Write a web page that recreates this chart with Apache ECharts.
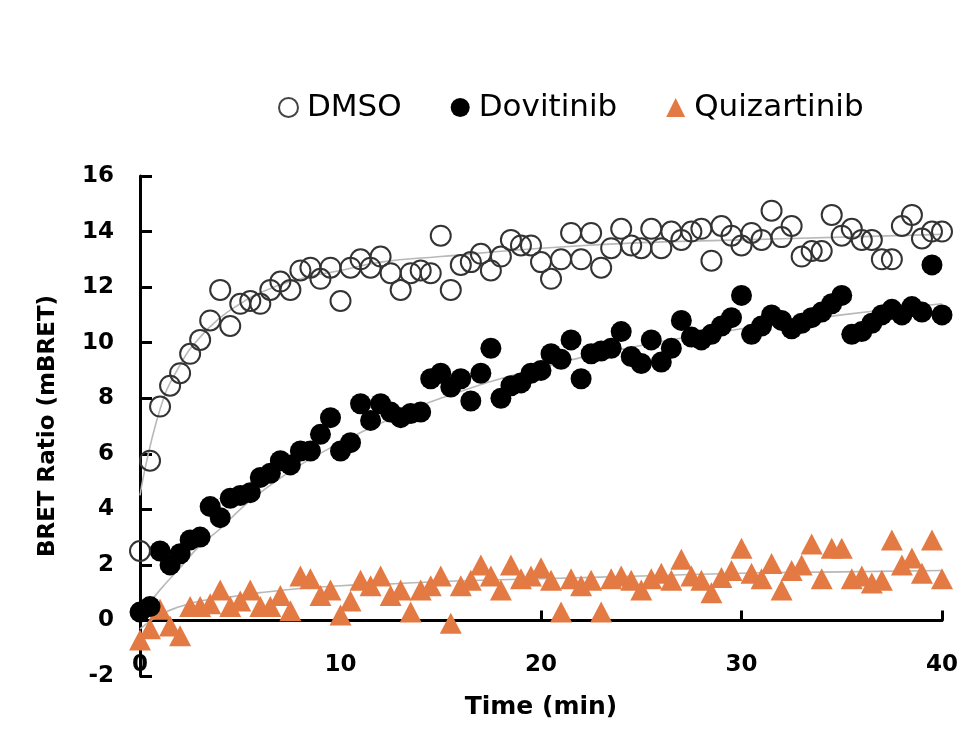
<!DOCTYPE html>
<html>
<head>
<meta charset="utf-8">
<script src="https://cdn.jsdelivr.net/npm/echarts@6/dist/echarts.min.js"></script>
<style>html,body{margin:0;padding:0;background:#fff;}#c{width:963px;height:729px;}</style>
</head>
<body>
<div id="c"></div>
<script>
// Sampling times (min)
const times = [0,0.5,1,1.5,2,2.5,3,3.5,4,4.5,5,5.5,6,6.5,7,7.5,8,8.5,9,9.5,10,10.5,11,11.5,12,12.5,13,13.5,14,14.5,15,15.5,16,16.5,17,17.5,18,18.5,19,19.5,20,20.5,21,21.5,22,22.5,23,23.5,24,24.5,25,25.5,26,26.5,27,27.5,28,28.5,29,29.5,30,30.5,31,31.5,32,32.5,33,33.5,34,34.5,35,35.5,36,36.5,37,37.5,38,38.5,39,39.5,40];

const dmso = [2.5,5.75,7.7,8.45,8.9,9.6,10.1,10.8,11.9,10.6,11.4,11.5,11.4,11.9,12.2,11.9,12.6,12.7,12.3,12.7,11.5,12.7,13.0,12.7,13.1,12.5,11.9,12.5,12.6,12.5,13.85,11.9,12.8,12.9,13.2,12.6,13.1,13.7,13.5,13.5,12.9,12.3,13.0,13.95,13.0,13.95,12.7,13.4,14.1,13.5,13.4,14.1,13.4,14.0,13.7,14.0,14.1,12.95,14.2,13.85,13.5,13.95,13.7,14.75,13.8,14.2,13.1,13.3,13.3,14.6,13.85,14.1,13.7,13.7,13.0,13.0,14.2,14.6,13.75,14.0,14.0];

const dovitinib = [0.3,0.5,2.5,2.0,2.4,2.9,3.0,4.1,3.7,4.4,4.5,4.6,5.15,5.3,5.75,5.6,6.1,6.1,6.7,7.3,6.1,6.4,7.8,7.2,7.8,7.5,7.3,7.45,7.5,8.7,8.9,8.4,8.7,7.9,8.9,9.8,8.0,8.45,8.55,8.9,9.0,9.6,9.4,10.1,8.7,9.6,9.7,9.8,10.4,9.5,9.25,10.1,9.3,9.8,10.8,10.2,10.1,10.3,10.6,10.9,11.7,10.3,10.6,11.0,10.8,10.5,10.7,10.9,11.1,11.4,11.7,10.3,10.4,10.7,11.0,11.2,11.0,11.3,11.1,12.8,11.0];

const quizartinib = [-0.7,-0.3,0.4,-0.2,-0.55,0.5,0.5,0.6,1.1,0.5,0.7,1.1,0.5,0.5,0.9,0.35,1.6,1.5,0.9,1.1,0.2,0.7,1.45,1.25,1.6,0.9,1.1,0.3,1.1,1.25,1.6,-0.1,1.25,1.45,2.0,1.6,1.1,2.0,1.5,1.6,1.9,1.45,0.3,1.5,1.25,1.45,0.3,1.5,1.6,1.45,1.1,1.5,1.7,1.45,2.2,1.6,1.45,1.0,1.55,1.8,2.6,1.7,1.5,2.05,1.1,1.8,2.0,2.75,1.5,2.6,2.6,1.5,1.6,1.35,1.45,2.9,2.0,2.25,1.7,2.9,1.5];

// Fitted curves
const fitTimes = [0,1,2,3,4,5,6,8,10,12,15,20,25,30,35,40];
const dmsoFit = [4.5,7.6,9.2,10.2,10.9,11.4,11.8,12.3,12.6,12.9,13.1,13.4,13.6,13.7,13.8,13.9];
const dovitinibFit = [0.2,1.1,1.9,2.7,3.3,4.0,4.6,5.6,6.4,7.1,8.0,9.1,9.9,10.5,11.0,11.4];
const quizartinibFit = [-0.3,0.2,0.5,0.7,0.8,0.9,1.0,1.15,1.25,1.3,1.4,1.5,1.6,1.7,1.75,1.8];

const seriesNames = ['DMSO','Dovitinib','Quizartinib'];
const yTicks = {min:-2, max:16, interval:2};
const xTicks = {min:0, max:40, interval:10};

const pair = (xs, ys) => xs.map((x,i)=>[x, ys[i]]);

const chart = echarts.init(document.getElementById('c'));
const axisFont = {fontFamily:'DejaVu Sans', fontWeight:'bold', fontSize:23, color:'#000'};
const fitStyle = {color:'#b8b8b8', width:1.6};

chart.setOption({
  animation:false,
  backgroundColor:'#fff',
  legend:{
    data:[
      {name:seriesNames[0], icon:'circle', itemStyle:{color:'#fff', borderColor:'#444', borderWidth:2}},
      {name:seriesNames[1], icon:'circle', itemStyle:{color:'#000'}},
      {name:seriesNames[2], icon:'triangle', itemStyle:{color:'#E47A43'}}
    ],
    left:273, top:87, itemWidth:19, itemHeight:19, itemGap:49,
    textStyle:{fontFamily:'DejaVu Sans', fontSize:31, color:'#000', padding:[0,0,0,4]}
  },
  grid:{left:140, right:21, top:176, bottom:53, containLabel:false, outerBoundsMode:'none'},
  xAxis:{
    type:'value', min:xTicks.min, max:xTicks.max, interval:xTicks.interval,
    name:'Time (min)', nameLocation:'middle', nameGap:19,
    nameTextStyle:{fontFamily:'DejaVu Sans', fontWeight:'bold', fontSize:25, color:'#000', verticalAlign:'top'},
    axisLine:{onZero:true, lineStyle:{color:'#000', width:3}},
    axisTick:{inside:true, length:10, lineStyle:{color:'#000', width:3}},
    axisLabel:Object.assign({margin:-22}, axisFont),
    splitLine:{show:false}
  },
  yAxis:{
    type:'value', min:yTicks.min, max:yTicks.max, interval:yTicks.interval,
    name:'BRET Ratio (mBRET)', nameLocation:'middle', nameGap:80, nameRotate:90,
    nameTextStyle:{fontFamily:'DejaVu Sans', fontWeight:'bold', fontSize:23, color:'#000'},
    axisLine:{show:true, onZero:false, lineStyle:{color:'#000', width:3}},
    axisTick:{show:true, inside:true, length:12, lineStyle:{color:'#000', width:3}},
    axisLabel:Object.assign({margin:26}, axisFont),
    splitLine:{show:false}
  },
  series:[
    {type:'line', data:pair(fitTimes, dmsoFit), smooth:true, showSymbol:false, lineStyle:fitStyle, z:1, silent:true},
    {type:'line', data:pair(fitTimes, dovitinibFit), smooth:true, showSymbol:false, lineStyle:fitStyle, z:1, silent:true},
    {type:'line', data:pair(fitTimes, quizartinibFit), smooth:true, showSymbol:false, lineStyle:fitStyle, z:1, silent:true},
    {name:seriesNames[2], type:'scatter', data:pair(times, quizartinib), symbol:'triangle', symbolSize:[22,21],
      itemStyle:{color:'#E47A43', opacity:1}, z:3},
    {name:seriesNames[1], type:'scatter', data:pair(times, dovitinib), symbol:'circle', symbolSize:21,
      itemStyle:{color:'#000', opacity:1}, z:4},
    {name:seriesNames[0], type:'scatter', data:pair(times, dmso), symbol:'circle', symbolSize:20,
      itemStyle:{color:'rgba(255,255,255,0)', borderColor:'#333', borderWidth:2, opacity:1}, z:5}
  ]
});
</script>
</body>
</html>
